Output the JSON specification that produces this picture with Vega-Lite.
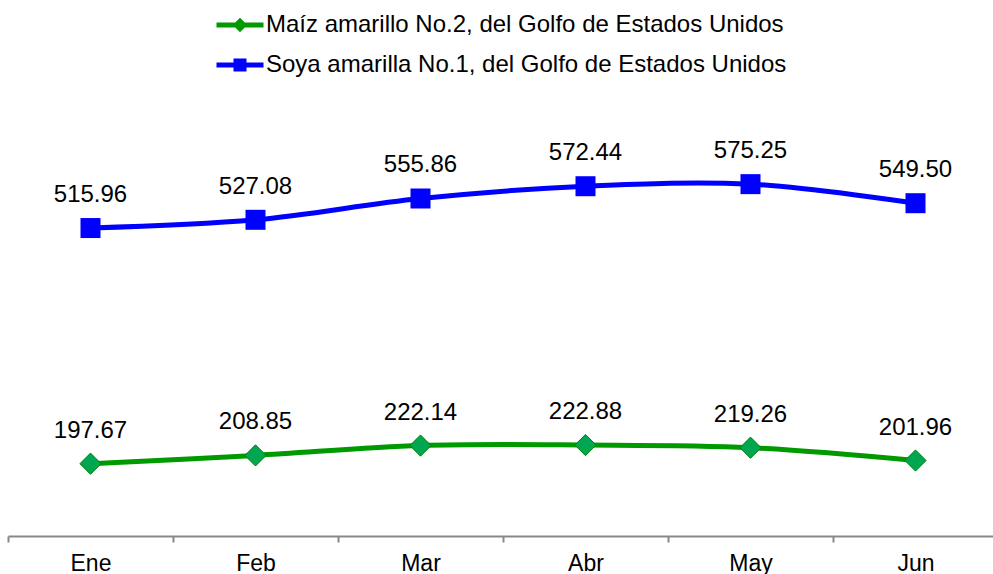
{
  "$schema": "https://vega.github.io/schema/vega-lite/v6.json",
  "autosize": "none",
  "width": 990,
  "height": 442,
  "padding": {"left": 8, "top": 94, "right": 0, "bottom": 38},
  "background": "white",
  "config": {"view": {"stroke": null}, "font": "Liberation Sans"},
  "data": {"values": [
    {"mes": "Ene", "serie": "Maíz amarillo No.2, del Golfo de Estados Unidos", "valor": 197.67},
    {"mes": "Feb", "serie": "Maíz amarillo No.2, del Golfo de Estados Unidos", "valor": 208.85},
    {"mes": "Mar", "serie": "Maíz amarillo No.2, del Golfo de Estados Unidos", "valor": 222.14},
    {"mes": "Abr", "serie": "Maíz amarillo No.2, del Golfo de Estados Unidos", "valor": 222.88},
    {"mes": "May", "serie": "Maíz amarillo No.2, del Golfo de Estados Unidos", "valor": 219.26},
    {"mes": "Jun", "serie": "Maíz amarillo No.2, del Golfo de Estados Unidos", "valor": 201.96},
    {"mes": "Ene", "serie": "Soya amarilla No.1, del Golfo de Estados Unidos", "valor": 515.96},
    {"mes": "Feb", "serie": "Soya amarilla No.1, del Golfo de Estados Unidos", "valor": 527.08},
    {"mes": "Mar", "serie": "Soya amarilla No.1, del Golfo de Estados Unidos", "valor": 555.86},
    {"mes": "Abr", "serie": "Soya amarilla No.1, del Golfo de Estados Unidos", "valor": 572.44},
    {"mes": "May", "serie": "Soya amarilla No.1, del Golfo de Estados Unidos", "valor": 575.25},
    {"mes": "Jun", "serie": "Soya amarilla No.1, del Golfo de Estados Unidos", "valor": 549.50}
  ]},
  "encoding": {
    "x": {
      "field": "mes", "type": "nominal", "sort": ["Ene", "Feb", "Mar", "Abr", "May", "Jun"],
      "scale": {"type": "band", "paddingInner": 0, "paddingOuter": 0},
      "axis": {"title": null, "labelAngle": 0, "labelFontSize": 23, "labelColor": "#000000", "labelPadding": 10,
               "domainColor": "#888888", "domainWidth": 2, "tickColor": "#888888", "tickWidth": 2, "tickSize": 6, "tickBand": "extent", "grid": false}
    },
    "y": {"field": "valor", "type": "quantitative", "scale": {"domain": [100, 697], "nice": false, "zero": false}, "axis": null}
  },
  "layer": [
    {
      "mark": {"type": "line", "interpolate": "cardinal", "strokeWidth": 5},
      "encoding": {
        "color": {"field": "serie", "type": "nominal", "scale": {"range": ["#009A00", "#0000FF"]}, "legend": null}
      }
    },
    {
      "transform": [{"filter": "datum.serie === 'Maíz amarillo No.2, del Golfo de Estados Unidos'"}],
      "mark": {"type": "point", "shape": "diamond", "filled": true, "fill": "#00A650", "stroke": "#007F00", "strokeWidth": 1, "size": 450, "opacity": 1}
    },
    {
      "transform": [{"filter": "datum.serie === 'Soya amarilla No.1, del Golfo de Estados Unidos'"}],
      "mark": {"type": "point", "shape": "square", "filled": true, "fill": "#0000FF", "stroke": "#0000FF", "strokeWidth": 0, "size": 400, "opacity": 1}
    },
    {
      "mark": {"type": "text", "fontSize": 24, "color": "#000000", "baseline": "alphabetic", "dy": -26},
      "encoding": {"text": {"field": "valor", "type": "quantitative", "format": ".2f"}}
    },
    {
      "mark": {"type": "point", "filled": false, "opacity": 0, "strokeWidth": 4},
      "encoding": {
        "fill": {"field": "serie", "type": "nominal", "scale": {"range": ["#009A00", "#0000FF"]},
          "legend": {"orient": "none", "legendX": 206, "legendY": -95, "title": null, "labelFontSize": 24, "labelColor": "#000000", "labelOffset": 0, "labelLimit": 0, "padding": 0, "rowPadding": -9, "symbolSize": 2209, "symbolStrokeWidth": 5}},
        "stroke": {"field": "serie", "type": "nominal", "scale": {"range": ["#009A00", "#0000FF"]}},
        "shape": {"field": "serie", "type": "nominal", "scale": {"range": [
          "M-1,0H1M0,-0.16L0.16,0L0,0.16L-0.16,0Z",
          "M-1,0H1M-0.17,-0.17H0.17V0.17H-0.17Z"
        ]}},
        "size": {"value": 2209}
      }
    }
  ],
  "resolve": {"scale": {"color": "independent"}}
}
